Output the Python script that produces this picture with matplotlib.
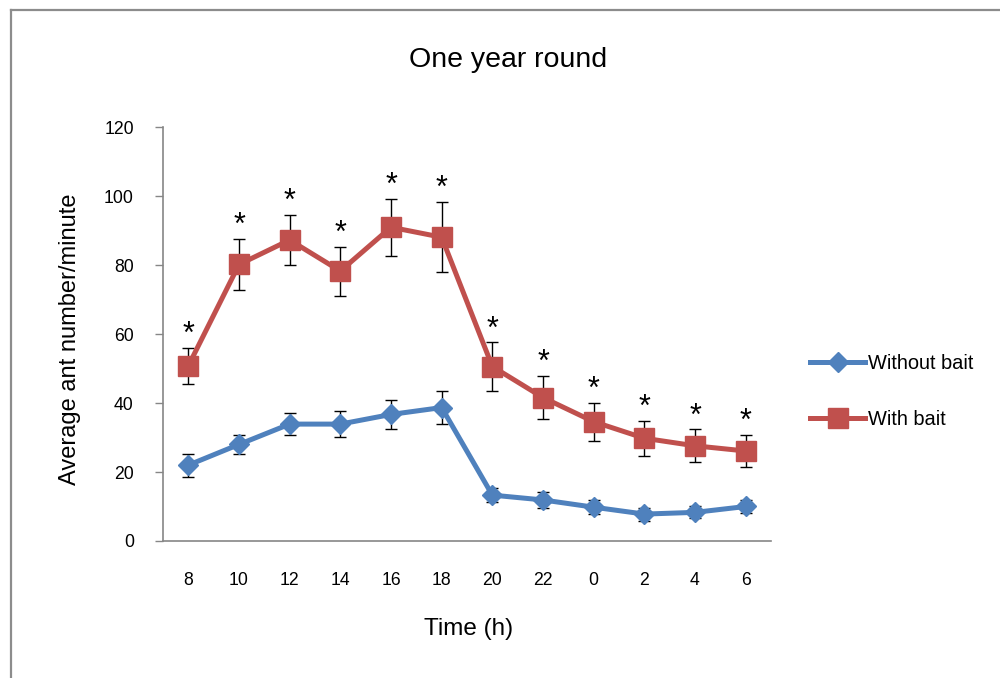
import matplotlib
matplotlib.use("Agg")
import matplotlib.pyplot as plt
from matplotlib.lines import Line2D
import numpy as np

plt.rcParams['font.family'] = ['Liberation Sans', 'DejaVu Sans']

# ---- data ----
time_labels = ['8', '10', '12', '14', '16', '18', '20', '22', '0', '2', '4', '6']
without_bait = [22.0, 28.0, 33.9, 33.9, 36.7, 38.7, 13.3, 11.9, 9.8, 7.8, 8.3, 10.0]
without_err = [3.3, 2.8, 3.1, 3.7, 4.1, 4.7, 2.1, 2.3, 2.0, 1.9, 1.7, 1.9]
with_bait = [50.8, 80.2, 87.3, 78.3, 91.0, 88.1, 50.6, 41.6, 34.6, 29.8, 27.6, 26.1]
with_err = [5.3, 7.5, 7.3, 7.1, 8.3, 10.2, 7.0, 6.3, 5.5, 5.1, 4.8, 4.6]
significant = ['*'] * 12
y_ticks = [0, 20, 40, 60, 80, 100, 120]

BLUE = '#4F81BD'
RED = '#C0504D'
GREY = '#868686'

fig = plt.figure(figsize=(10, 6.78), dpi=100)
ax = fig.add_axes([0.163, 0.2021, 0.608, 0.6102])

x = np.arange(len(time_labels))

ax.errorbar(x, without_bait, yerr=without_err, fmt='none', ecolor='black',
            elinewidth=1.0, capsize=4.5, capthick=1.0, zorder=1)
ax.errorbar(x, with_bait, yerr=with_err, fmt='none', ecolor='black',
            elinewidth=1.0, capsize=4.5, capthick=1.0, zorder=1)
l1, = ax.plot(x, without_bait, color=BLUE, lw=3.6, marker='D', ms=10.5,
              mec=BLUE, mfc=BLUE, zorder=3, label='Without bait')
l2, = ax.plot(x, with_bait, color=RED, lw=3.6, marker='s', ms=15,
              mec=RED, mfc=RED, zorder=3, label='With bait')

for xi, v, e, s in zip(x, with_bait, with_err, significant):
    ax.text(xi, v + e + 1.4, s, ha='center', va='baseline', fontsize=22,
            color='black', zorder=4)

ax.set_xlim(-0.5, len(time_labels) - 0.5)
ax.set_ylim(0, 120)
ax.set_yticks(y_ticks)
ax.set_xticks(x)
ax.set_xticklabels(time_labels)

for sp in ['top', 'right']:
    ax.spines[sp].set_visible(False)
for sp in ['left', 'bottom']:
    ax.spines[sp].set_color(GREY)
    ax.spines[sp].set_linewidth(1.2)

ax.tick_params(axis='y', direction='out', length=6, width=1.0, color=GREY,
               labelsize=12.7, pad=15)
ax.tick_params(axis='x', length=0, labelsize=12.7, pad=22)

fig.text(0.508, 1 - 60 / 678, 'One year round', ha='center', va='center',
         fontsize=20.5)
fig.text(0.469, 1 - 629 / 678, 'Time (h)', ha='center', va='center',
         fontsize=17.5)
fig.text(0.070, 1 - 339 / 678, 'Average ant number/minute', ha='center',
         va='center', rotation=90, fontsize=17)

leg = fig.legend(handles=[l1, l2], loc='upper left',
                 bbox_to_anchor=(0.81, 1 - 354 / 678), frameon=False,
                 fontsize=14.4, handlelength=2.75, handletextpad=0.15,
                 labelspacing=1.85, borderpad=0, borderaxespad=0)

# outer grey frame (chart area border)
fig.add_artist(Line2D([0.011, 0.011], [-0.1, 1 - 10 / 678],
                      transform=fig.transFigure, color='#8c8c8c', lw=1.6))
fig.add_artist(Line2D([0.011, 1.1], [1 - 10 / 678, 1 - 10 / 678],
                      transform=fig.transFigure, color='#8c8c8c', lw=1.6))

fig.savefig('out.png', dpi=100)
